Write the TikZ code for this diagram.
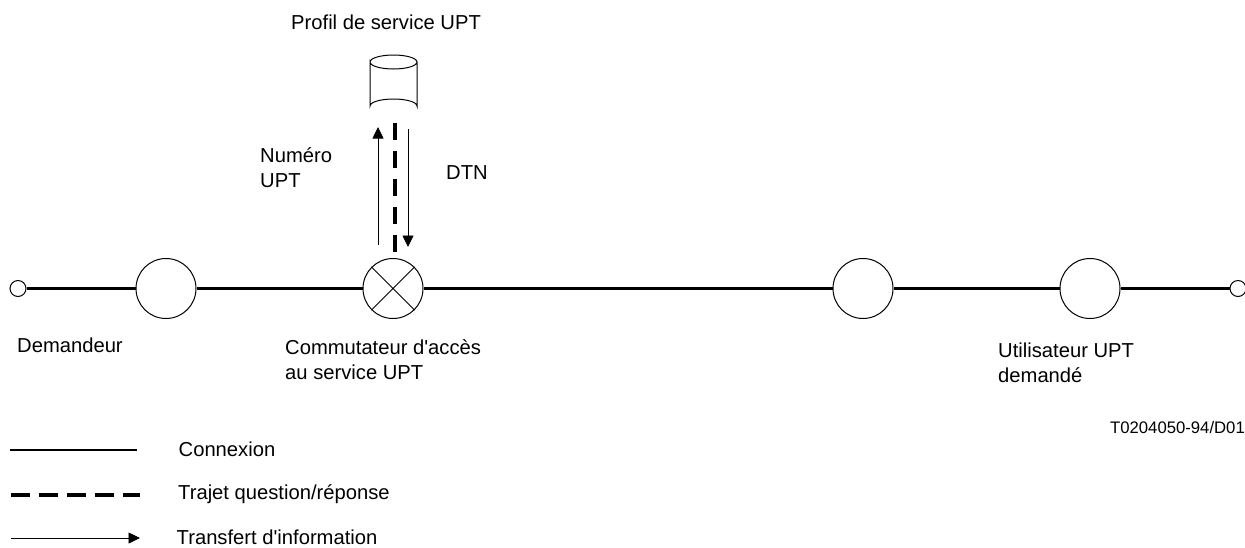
\documentclass[tikz,border=0pt]{standalone}
\usepackage{fontspec}
\newfontfamily\lib[Ligatures=NoCommon]{Liberation Sans}
\usetikzlibrary{arrows.meta}
\tikzset{
  x=1pt,y=-1pt,
  lab/.style={anchor=west,inner sep=0pt,align=left,font=\lib\fontsize{20.2}{25}\selectfont},
  conn/.style={line width=2.2pt,black},
  qr/.style={line width=4.2pt,dash pattern=on 17pt off 11pt},
  info/.style={line width=0.8pt,-{Triangle[width=11pt,length=11.5pt]}},
  bigc/.style={circle,draw,line width=1pt,minimum size=60pt,inner sep=0pt,fill=white},
  smallc/.style={circle,draw,line width=1pt,minimum size=16pt,inner sep=0pt,fill=white},
}
\begin{document}
\begin{tikzpicture}
\path[use as bounding box] (0,0) rectangle (1245,547);
\node[smallc] (a) at (18,288.5) {};
\node[bigc] (b) at (166,288.5) {};
\node[bigc] (s) at (393,288.5) {};
\node[bigc] (c) at (863,288.5) {};
\node[bigc] (d) at (1090,288.5) {};
\node[smallc] (e) at (1238,288.5) {};
\draw[conn] (a) -- (b);
\draw[conn] (b) -- (s);
\draw[conn] (s) -- (c);
\draw[conn] (c) -- (d);
\draw[conn] (d) -- (e);
\draw[line width=.8pt] (s.north west) -- (s.south east) (s.north east) -- (s.south west);
% database
\draw[line width=1pt,fill=white] (370,62) arc[start angle=180,end angle=360,x radius=23.5,y radius=7] arc[start angle=0,end angle=180,x radius=23.5,y radius=7] -- (370,106) arc[start angle=180,end angle=360,x radius=23.5,y radius=7] -- (417,62);
\coordinate (dbb) at (395,123);
\coordinate (sw) at (395,252);
\coordinate (u0) at (378,245);
\coordinate (u1) at (378,127);
\coordinate (d0) at (408,129);
\coordinate (d1) at (408,247);
\draw[qr] (dbb) -- (sw);
\draw[info] (u0) -- (u1);
\draw[info] (d0) -- (d1);
\node[lab] (t1) at (291,22) {Profil de service UPT};
\node[lab] (t2) at (260,168) {Numéro\\UPT};
\node[lab] (t3) at (446,172.5) {DTN};
\node[lab] (t4) at (17,345.5) {Demandeur};
\node[lab] (t5) at (285,360) {Commutateur d'accès\\au service UPT};
\node[lab] (t6) at (998,362.5) {Utilisateur UPT\\demandé};
\node[anchor=east,inner sep=0pt,font=\lib\fontsize{16.7}{20}\selectfont] (t7) at (1245,427.5) {T0204050-94/D01};
\coordinate (l1a) at (10,450); \coordinate (l1b) at (137,450);
\coordinate (l2a) at (11,495); \coordinate (l2b) at (140,495);
\coordinate (l3a) at (11,538); \coordinate (l3b) at (140,538);
\draw[conn] (l1a) -- (l1b);
\draw[qr,dash pattern=on 19pt off 9pt] (l2a) -- (l2b);
\draw[info] (l3a) -- (l3b);
\node[lab] (t8) at (178.5,449.5) {Connexion};
\node[lab] (t9) at (178,494) {Trajet question/réponse};
\node[lab] (t10) at (176.5,537) {Transfert d'information};
\end{tikzpicture}
\end{document}
